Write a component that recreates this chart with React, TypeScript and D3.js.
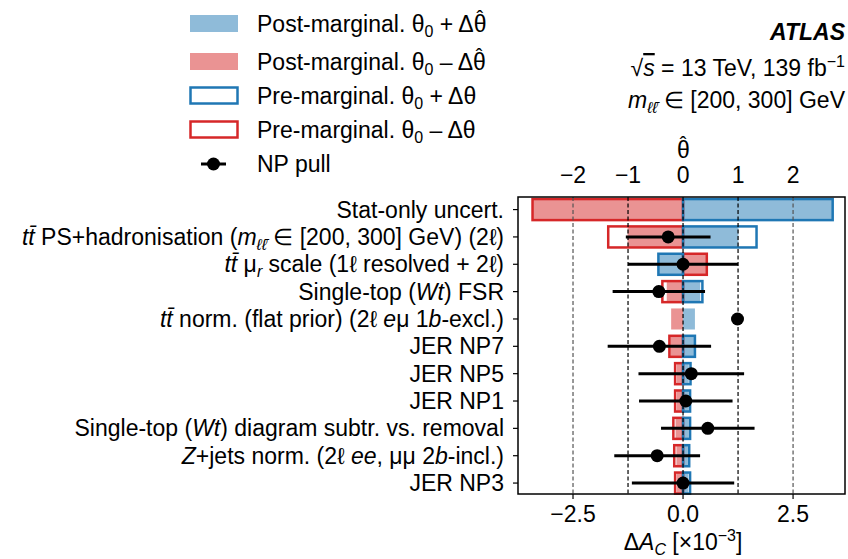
import React from 'react';
import * as d3 from 'd3';

// ---- data (ΔA_C in units of 1e-3, pulls in units of θ) ----
type Seg = [string, string?];

const labels: Seg[][] = [
    [['Stat-only uncert.']],
    [['tt\u0304', 'i'], [' PS+hadronisation ('], ['m', 'i'], ['\u2113\u2113\u0304', 'sub'], [' \u2208 [200, 300] GeV) (2\u2113)']],
    [['tt\u0304', 'i'], [' \u03bc'], ['r', 'sub'], [' scale (1\u2113 resolved + 2\u2113)']],
    [['Single-top ('], ['Wt', 'i'], [') FSR']],
    [['tt\u0304', 'i'], [' norm. (flat prior) (2\u2113 '], ['e', 'i'], ['\u03bc 1'], ['b', 'i'], ['-excl.)']],
    [['JER NP7']],
    [['JER NP5']],
    [['JER NP1']],
    [['Single-top ('], ['Wt', 'i'], [') diagram subtr. vs. removal']],
    [['Z', 'i'], ['+jets norm. (2\u2113 '], ['ee', 'i'], [', \u03bc\u03bc 2'], ['b', 'i'], ['-incl.)']],
    [['JER NP3']],
];

const postUp = [3.40, 1.26, -0.55, 0.39, 0.27, 0.25, 0.13, 0.13, 0.13, 0.11, 0.12];
const postDown = [-3.42, -1.26, 0.54, -0.37, -0.27, -0.29, -0.14, -0.14, -0.17, -0.15, -0.14];
const preUp: (number | null)[] = [3.40, 1.67, -0.56, 0.44, null, 0.27, 0.17, 0.16, 0.16, 0.14, 0.16];
const preDown: (number | null)[] = [-3.42, -1.70, 0.54, -0.47, null, -0.31, -0.18, -0.18, -0.22, -0.20, -0.18];
const pulls: (number | null)[] = [null, -0.27, 0.0, -0.44, 0.99, -0.43, 0.15, 0.05, 0.45, -0.47, 0.0];
const pullErr = [0, 0.77, 1.0, 0.84, 0, 0.94, 0.96, 0.85, 0.85, 0.78, 0.93];

const bottomTicks = [-2.5, 0, 2.5];
const topTicks = [-2, -1, 0, 1, 2];

const legendItems = [
    { kind: 'fillBlue', text: 'Post-marginal. ', hat: true, sign: '+' },
    { kind: 'fillRed', text: 'Post-marginal. ', hat: true, sign: '\u2013' },
    { kind: 'lineBlue', text: 'Pre-marginal. ', hat: false, sign: '+' },
    { kind: 'lineRed', text: 'Pre-marginal. ', hat: false, sign: '\u2013' },
    { kind: 'pull', text: 'NP pull', hat: false, sign: '' },
];

const W = 848;
const H = 559;
const FONT = '"Liberation Sans", Arial, Helvetica, sans-serif';
const FS = 23;
const SUB = 16;

const BLUE = '#1f77b4';
const RED = '#d62728';
const BLUE_FILL = '#8fbbd9';
const RED_FILL = '#ea9393';

const plot = { left: 518, right: 845, top: 197, bottom: 494 };

const x = d3.scaleLinear().domain([-3.75, 3.68]).range([plot.left, plot.right]);
// θ axis: 1 σ of the NP corresponds to 1.25e-3 on the ΔA_C axis
const xt = d3.scaleLinear().domain([-3.75 / 1.25, 3.68 / 1.25]).range([plot.left, plot.right]);
const y = d3.scaleLinear().domain([-0.46, labels.length - 0.6]).range([plot.top, plot.bottom]);
const barH = (y(1) - y(0)) * 0.77;

function renderSegs(segs: Seg[]) {
    let cur = 0;
    return segs.map(([t, s], k) => {
        const target = s === 'sub' ? 5 : 0;
        const dy = target - cur;
        cur = target;
        return (
            <tspan
                key={k}
                dy={dy || undefined}
                fontStyle={s === 'i' || s === 'sub' ? 'italic' : undefined}
                fontSize={s === 'sub' ? SUB : undefined}
            >
                {t}
            </tspan>
        );
    });
}

function barRect(v0: number, v1: number, i: number) {
    const a = Math.min(x(v0), x(v1));
    const b = Math.max(x(v0), x(v1));
    return { x: a, y: y(i) - barH / 2, width: b - a, height: barH };
}

// θ with a circumflex drawn as a shifted modifier glyph
function Hat() {
    return (
        <tspan dx={-10} dy={-7} fontSize={20}>{'\u02c6'}</tspan>
    );
}

function ThetaLegend({ hat, sign }: { hat: boolean; sign: string }) {
    return (
        <>
            <tspan>θ</tspan>
            <tspan dy={5} fontSize={SUB}>0</tspan>
            <tspan dy={-5}>{` ${sign} Δθ`}</tspan>
            {hat && <Hat />}
        </>
    );
}

export default function App() {
    const fmtBottom = d3.format('.1f');
    const fmtTop = d3.format('d');
    const legendY = [23.5, 61.5, 95.5, 129.5, 164];

    return (
        <div style={{ position: 'fixed', left: 0, top: 0, background: '#fff' }}>
            <svg width={W} height={H} fontFamily={FONT} fontSize={FS}>
                <rect width={W} height={H} fill="#fff" />

                {/* legend */}
                {legendItems.map((it, k) => {
                    const cy = legendY[k];
                    let sym: React.ReactNode = null;
                    if (it.kind === 'fillBlue' || it.kind === 'fillRed') {
                        sym = <rect x={190} y={cy - 8.5} width={48} height={17} fill={it.kind === 'fillBlue' ? BLUE_FILL : RED_FILL} />;
                    } else if (it.kind === 'lineBlue' || it.kind === 'lineRed') {
                        sym = <rect x={190.5} y={cy - 8} width={47} height={16} fill="none" stroke={it.kind === 'lineBlue' ? BLUE : RED} strokeWidth={2.5} />;
                    } else {
                        sym = (
                            <g>
                                <line x1={201} x2={226} y1={cy} y2={cy} stroke="#000" strokeWidth={3} />
                                <circle cx={213.5} cy={cy} r={6.5} fill="#000" />
                            </g>
                        );
                    }
                    return (
                        <g key={k}>
                            {sym}
                            <text x={257} y={cy + 8}>
                                {it.text}
                                {it.kind !== 'pull' && <ThetaLegend hat={it.hat} sign={it.sign} />}
                            </text>
                        </g>
                    );
                })}

                {/* ATLAS text */}
                <text x={845} y={40} textAnchor="end" fontWeight="bold" fontStyle="italic">ATLAS</text>
                <text x={845} y={76} textAnchor="end">
                    <tspan>√</tspan>
                    <tspan fontStyle="italic" textDecoration="overline">s</tspan>
                    <tspan>{' = 13 TeV, 139 fb'}</tspan>
                    <tspan dy={-9} fontSize={SUB}>−1</tspan>
                </text>
                <text x={845} y={108} textAnchor="end">
                    <tspan fontStyle="italic">m</tspan>
                    <tspan dy={5} fontSize={SUB} fontStyle="italic">{'\u2113\u2113\u0304'}</tspan>
                    <tspan dy={-5}>{' \u2208 [200, 300] GeV'}</tspan>
                </text>

                {/* post-marginal fills */}
                {labels.map((_, i) => (
                    <g key={'post' + i}>
                        <rect {...barRect(0, postDown[i], i)} fill={RED_FILL} />
                        <rect {...barRect(0, postUp[i], i)} fill={BLUE_FILL} />
                    </g>
                ))}
                {/* pre-marginal outlines */}
                {labels.map((_, i) =>
                    preUp[i] === null ? null : (
                        <g key={'pre' + i} fill="none" strokeWidth={2.5}>
                            <rect {...barRect(0, preDown[i] as number, i)} stroke={RED} />
                            <rect {...barRect(0, preUp[i] as number, i)} stroke={BLUE} />
                        </g>
                    )
                )}

                {/* reference lines at θ = -2..2 */}
                {topTicks.map((t) => (
                    <line
                        key={'v' + t}
                        x1={xt(t)}
                        x2={xt(t)}
                        y1={plot.top}
                        y2={plot.bottom}
                        stroke={Math.abs(t) === 2 ? '#555' : '#000'}
                        strokeWidth={1.2}
                        strokeDasharray="4,2.5"
                    />
                ))}

                {/* pulls */}
                {labels.map((_, i) => {
                    const p = pulls[i];
                    if (p === null) return null;
                    return (
                        <g key={'pull' + i}>
                            {pullErr[i] > 0 && (
                                <line x1={xt(p - pullErr[i])} x2={xt(p + pullErr[i])} y1={y(i)} y2={y(i)} stroke="#000" strokeWidth={3} />
                            )}
                            <circle cx={xt(p)} cy={y(i)} r={6.5} fill="#000" />
                        </g>
                    );
                })}

                {/* frame */}
                <rect x={plot.left} y={plot.top} width={plot.right - plot.left} height={plot.bottom - plot.top} fill="none" stroke="#000" strokeWidth={1.5} />

                {/* y axis */}
                {labels.map((segs, i) => (
                    <g key={'yl' + i}>
                        <line x1={plot.left - 5} x2={plot.left} y1={y(i)} y2={y(i)} stroke="#000" strokeWidth={1.2} />
                        <text x={504} y={y(i) + 8} textAnchor="end">{renderSegs(segs)}</text>
                    </g>
                ))}

                {/* bottom axis */}
                {bottomTicks.map((t) => (
                    <g key={'bt' + t}>
                        <line x1={x(t)} x2={x(t)} y1={plot.bottom} y2={plot.bottom + 5} stroke="#000" strokeWidth={1.2} />
                        <text x={x(t)} y={522} textAnchor="middle">{fmtBottom(t)}</text>
                    </g>
                ))}
                <text x={x(0)} y={550} textAnchor="middle">
                    <tspan>Δ</tspan>
                    <tspan fontStyle="italic">A</tspan>
                    <tspan dy={5} fontSize={SUB} fontStyle="italic">C</tspan>
                    <tspan dy={-5}>{' [×10'}</tspan>
                    <tspan dy={-9} fontSize={SUB}>−3</tspan>
                    <tspan dy={9}>]</tspan>
                </text>

                {/* top axis */}
                {topTicks.map((t) => (
                    <text key={'tt' + t} x={xt(t)} y={183} textAnchor="middle">{fmtTop(t)}</text>
                ))}
                <text x={xt(0) - 6} y={158}>
                    <tspan>θ</tspan>
                    <Hat />
                </text>
            </svg>
        </div>
    );
}
